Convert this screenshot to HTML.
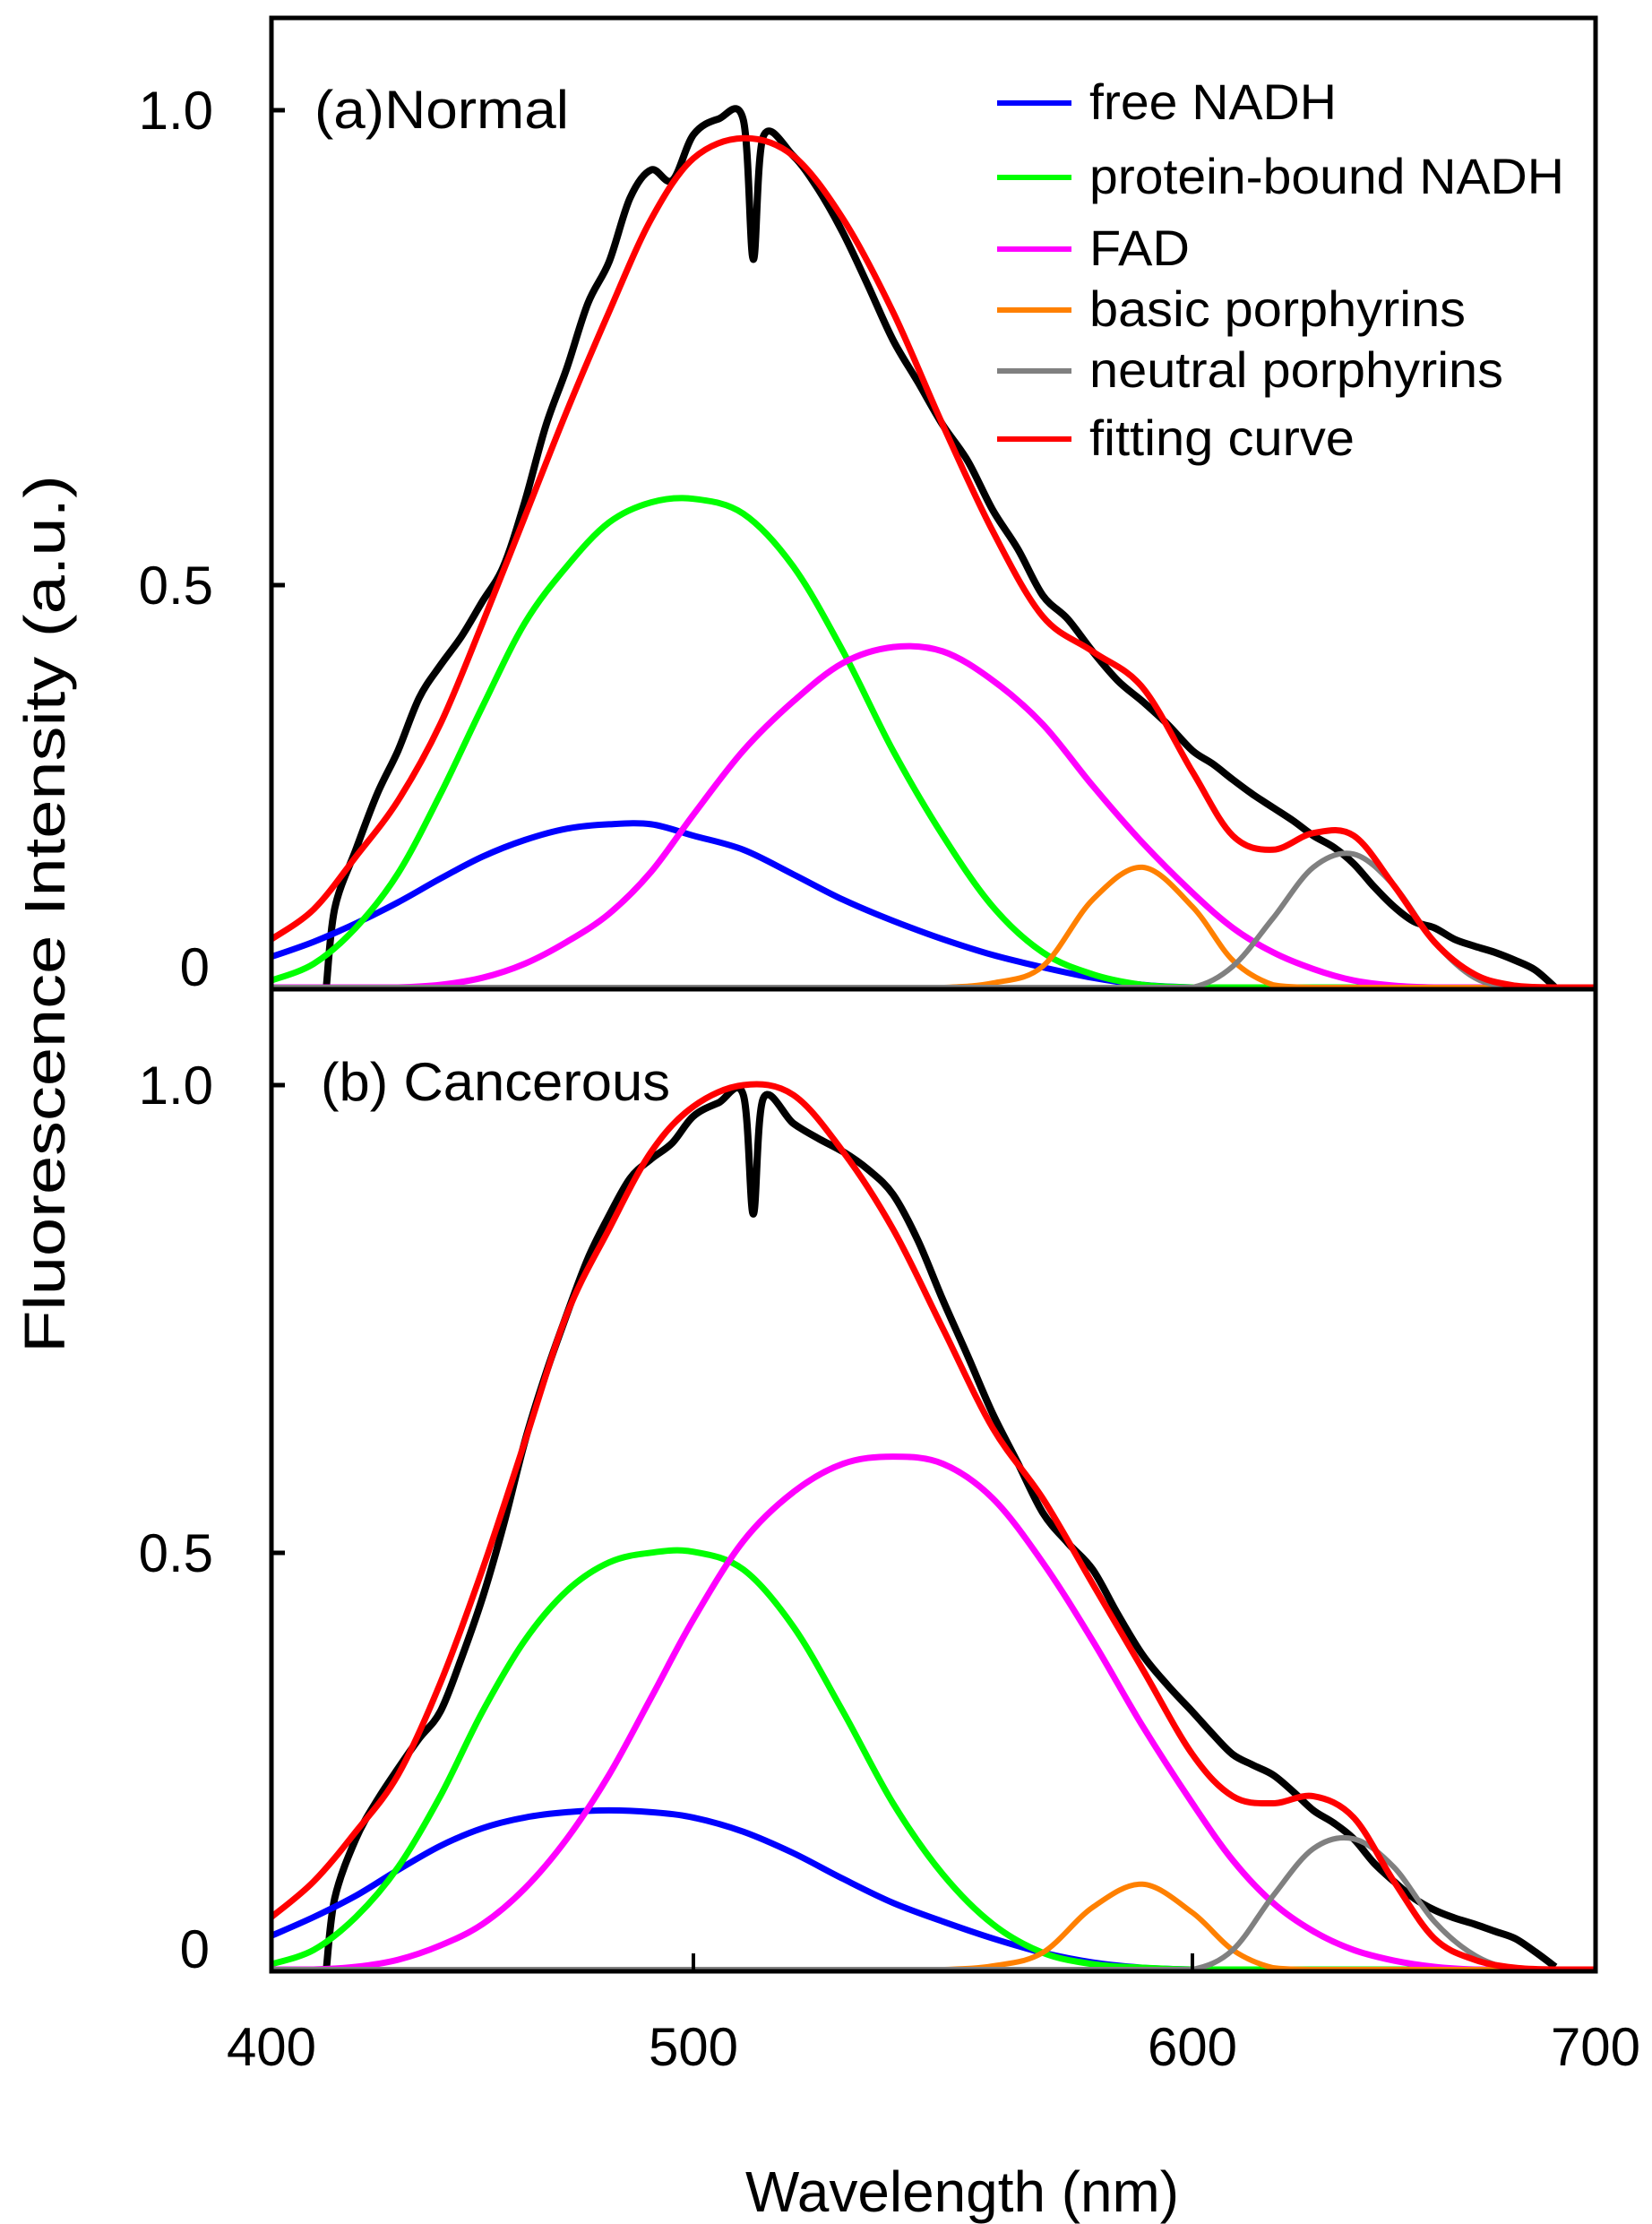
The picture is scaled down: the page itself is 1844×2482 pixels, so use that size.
<!DOCTYPE html>
<html><head><meta charset="utf-8"><style>
html,body{margin:0;padding:0;background:#fff;}
svg{display:block;font-family:"Liberation Sans",Arial,sans-serif;}
</style></head><body>
<svg id="chart" width="1844" height="2482" viewBox="0 0 1844 2482" xmlns="http://www.w3.org/2000/svg">
<rect width="1844" height="2482" fill="#fff"/>
<g id="curves"></g>
<g id="frame" fill="none" stroke="#000" stroke-width="5">
<rect x="303" y="20" width="1478" height="2180"/>
<line x1="303" y1="1104" x2="1781" y2="1104"/>
</g>
<g id="ticks"></g>
<text x="351" y="143" font-size="60" textLength="284" lengthAdjust="spacingAndGlyphs">(a)Normal</text>
<text x="358" y="1228" font-size="60" textLength="390" lengthAdjust="spacingAndGlyphs">(b) Cancerous</text>
<text transform="translate(72,1020) rotate(-90)" text-anchor="middle" font-size="64" textLength="980" lengthAdjust="spacingAndGlyphs">Fluorescence Intensity (a.u.)</text>
<text x="1074" y="2468" text-anchor="middle" font-size="64" textLength="484" lengthAdjust="spacingAndGlyphs">Wavelength (nm)</text>
<g id="legend" font-size="56"></g>
</svg>
<script>
const NS="http://www.w3.org/2000/svg";
const wl=[400,410,420,430,440,450,460,470,480,490,500,510,520,530,540,550,560,570,580,590,600,610,620,630,640,650,660,670,680,690,700];
const aBlue=[.035,.052,.073,.097,.124,.149,.168,.181,.186,.186,.173,.157,.129,.10,.076,.055,.037,.023,.011,.003,0,0,0,0,0,0,0,0,0,0,0];
const aGreen=[.008,.027,.068,.13,.22,.32,.415,.48,.53,.553,.557,.54,.48,.383,.27,.173,.092,.04,.015,.003,0,0,0,0,0,0,0,0,0,0,0];
const aMagenta=[0,0,0,0,.003,.011,.027,.052,.084,.132,.197,.27,.326,.37,.388,.383,.35,.30,.23,.165,.108,.068,.04,.021,.008,.002,0,0,0,0,0];
const aOrange=[0,0,0,0,0,0,0,0,0,0,0,0,0,0,0,0,.005,.024,.10,.137,.092,.031,.003,0,0,0,0,0,0,0,0];
const aGray=[0,0,0,0,0,0,0,0,0,0,0,0,0,0,0,0,0,0,0,0,0,.024,.079,.137,.152,.116,.052,.011,0,0,0];
const aRed=[.055,.089,.149,.213,.30,.415,.536,.657,.77,.876,.945,.968,.948,.876,.77,.641,.52,.423,.383,.342,.246,.173,.157,.176,.173,.116,.052,.015,.002,0,0];
const measWl=[413,415,420,425,430,435,440,445,450,455,460,465,470,475,480,485,490,495,500,505,510,512,514,520,525,530,535,540,545,550,555,560,565,570,575,580,585,590,595,600,605,610,615,620,625,630,635,640,645,650,655,660,665,670,675,680,685,690];
const aMeas=[0,.09,.157,.22,.27,.33,.367,.40,.44,.48,.553,.64,.706,.78,.827,.90,.932,.92,.972,.99,.989,.83,.97,.948,.91,.86,.80,.738,.69,.641,.60,.544,.50,.447,.42,.383,.35,.326,.30,.27,.255,.237,.22,.205,.19,.173,.16,.141,.115,.092,.075,.068,.055,.047,.04,.031,.02,0];
const bBlue=[.038,.059,.083,.112,.139,.159,.171,.177,.179,.177,.171,.155,.131,.102,.075,.054,.035,.019,.008,.002,0,0,0,0,0,0,0,0,0,0,0];
const bGreen=[.006,.022,.059,.115,.195,.29,.37,.426,.458,.469,.47,.45,.386,.29,.187,.107,.051,.019,.006,.002,0,0,0,0,0,0,0,0,0,0,0];
const bMagenta=[0,0,.003,.011,.027,.051,.091,.147,.219,.306,.394,.482,.537,.569,.577,.569,.53,.458,.37,.274,.187,.123,.075,.043,.022,.01,.003,0,0,0,0];
const bOrange=[0,0,0,0,0,0,0,0,0,0,0,0,0,0,0,0,.004,.019,.07,.096,.064,.022,.002,0,0,0,0,0,0,0,0];
const bGray=[0,0,0,0,0,0,0,0,0,0,0,0,0,0,0,0,0,0,0,0,0,.022,.083,.136,.147,.115,.054,.016,0,0,0];
const bRed=[.059,.099,.155,.219,.322,.45,.593,.737,.833,.92,.971,.995,.984,.92,.833,.721,.609,.53,.434,.338,.242,.195,.187,.195,.171,.099,.035,.011,.002,0,0];
const bMeas=[0,.08,.147,.19,.226,.26,.29,.35,.418,.50,.593,.67,.737,.80,.848,.89,.912,.93,.96,.975,.984,.85,.98,.952,.935,.92,.90,.872,.82,.753,.69,.625,.57,.514,.48,.45,.40,.354,.32,.29,.265,.242,.23,.219,.20,.179,.165,.147,.12,.099,.08,.067,.058,.051,.043,.035,.02,.003];
const xTickVals=[400,500,600,700];
const xTickLabels=["400","500","600","700"];
const yTickLabels=["0","0.5","1.0"];
const legendLabels=["free NADH","protein-bound NADH","FAD","basic porphyrins","neutral porphyrins","fitting curve"];
const colors={blue:"#0000ff",green:"#00ff00",magenta:"#ff00ff",orange:"#ff8000",gray:"#808080",red:"#ff0000",black:"#000"};
const xAnchors=[303,774,1331,1781];
function xScale(w){
  for(let i=0;i<xTickVals.length-1;i++){
    if(w<=xTickVals[i+1]||i===xTickVals.length-2){
      const t=(w-xTickVals[i])/(xTickVals[i+1]-xTickVals[i]);
      return xAnchors[i]+t*(xAnchors[i+1]-xAnchors[i]);
    }
  }
}
const panels={a:{y0:1102,k:979},b:{y0:2198,k:992}};
function yScale(p,v){return panels[p].y0-v*panels[p].k;}
function smoothPath(pts,base){
  let d="M"+pts[0][0].toFixed(1)+","+pts[0][1].toFixed(1);
  for(let i=0;i<pts.length-1;i++){
    const p0=pts[i-1]||pts[i],p1=pts[i],p2=pts[i+1],p3=pts[i+2]||p2;
    const c1=[p1[0]+(p2[0]-p0[0])/6,Math.min(p1[1]+(p2[1]-p0[1])/6,base)];
    const c2=[p2[0]-(p3[0]-p1[0])/6,Math.min(p2[1]-(p3[1]-p1[1])/6,base)];
    d+="C"+c1[0].toFixed(1)+","+c1[1].toFixed(1)+" "+c2[0].toFixed(1)+","+c2[1].toFixed(1)+" "+p2[0].toFixed(1)+","+p2[1].toFixed(1);
  }
  return d;
}
const g=document.getElementById("curves");
function drawSeries(panel,xs,vals,color,name,w){
  const pts=xs.map((x,i)=>[xScale(x),yScale(panel,vals[i])]);
  const el=document.createElementNS(NS,"path");
  el.setAttribute("d",smoothPath(pts,panels[panel].y0));
  el.setAttribute("fill","none");
  el.setAttribute("stroke",color);
  el.setAttribute("stroke-width",w);
  el.setAttribute("stroke-linejoin","round");
  
  
  g.appendChild(el);
}
[["a",aMeas,aBlue,aGreen,aMagenta,aOrange,aGray,aRed],["b",bMeas,bBlue,bGreen,bMagenta,bOrange,bGray,bRed]].forEach(s=>{
  const p=s[0];
  drawSeries(p,measWl,s[1],colors.black,"measured-spectrum-"+p,8);
  drawSeries(p,wl,s[2],colors.blue,"free-nadh-curve-"+p,7);
  drawSeries(p,wl,s[3],colors.green,"protein-bound-nadh-curve-"+p,7);
  drawSeries(p,wl,s[4],colors.magenta,"fad-curve-"+p,7);
  drawSeries(p,wl,s[5],colors.orange,"basic-porphyrins-curve-"+p,6);
  drawSeries(p,wl,s[6],colors.gray,"neutral-porphyrins-curve-"+p,6);
  drawSeries(p,wl,s[7],colors.red,"fitting-curve-"+p,7);
});
const tg=document.getElementById("ticks");
const yTickPix={a:[1102,653,123],b:[2198,1733,1211]};
["a","b"].forEach(p=>{
  yTickLabels.forEach((lab,i)=>{
    const y=yTickPix[p][i];
    if(i>0){
      const t=document.createElementNS(NS,"line");
      t.setAttribute("x1",303);t.setAttribute("x2",318);t.setAttribute("y1",y);t.setAttribute("y2",y);
      t.setAttribute("stroke","#000");t.setAttribute("stroke-width",5);
      
      
      tg.appendChild(t);
    }
    const tx=document.createElementNS(NS,"text");
    tx.setAttribute("x",i===0?234:238);tx.setAttribute("y",i===0?y-2:y+21);
    tx.setAttribute("text-anchor","end");tx.setAttribute("font-size","60");
    tx.textContent=lab;
    
    
    tg.appendChild(tx);
  });
});
xTickVals.forEach((v,i)=>{
  const x=xScale(v);
  const tx=document.createElementNS(NS,"text");
  tx.setAttribute("x",x);tx.setAttribute("y",2305);
  tx.setAttribute("text-anchor","middle");tx.setAttribute("font-size","60");
  tx.textContent=xTickLabels[i];
  
  
  tg.appendChild(tx);
  if(i>0&&i<3){
    const t=document.createElementNS(NS,"line");
    t.setAttribute("x1",x);t.setAttribute("x2",x);t.setAttribute("y1",2198);t.setAttribute("y2",2180);
    t.setAttribute("stroke","#000");t.setAttribute("stroke-width",4);
    
    
    tg.appendChild(t);
  }
});
const lg=document.getElementById("legend");
const legColors=[colors.blue,colors.green,colors.magenta,colors.orange,colors.gray,colors.red];
const legY=[115,198,278,346,414,490];
legendLabels.forEach((lab,i)=>{
  const l=document.createElementNS(NS,"line");
  l.setAttribute("x1",1113);l.setAttribute("x2",1196);l.setAttribute("y1",legY[i]);l.setAttribute("y2",legY[i]);
  l.setAttribute("stroke",legColors[i]);l.setAttribute("stroke-width",6);
  
  
  lg.appendChild(l);
  const t=document.createElementNS(NS,"text");
  t.setAttribute("x",1216);t.setAttribute("y",legY[i]+18);
  t.setAttribute("textLength",[276,530,112,420,462,296][i]);
  t.setAttribute("lengthAdjust","spacingAndGlyphs");
  t.textContent=lab;
  
  
  lg.appendChild(t);
});
</script>
</body></html>
